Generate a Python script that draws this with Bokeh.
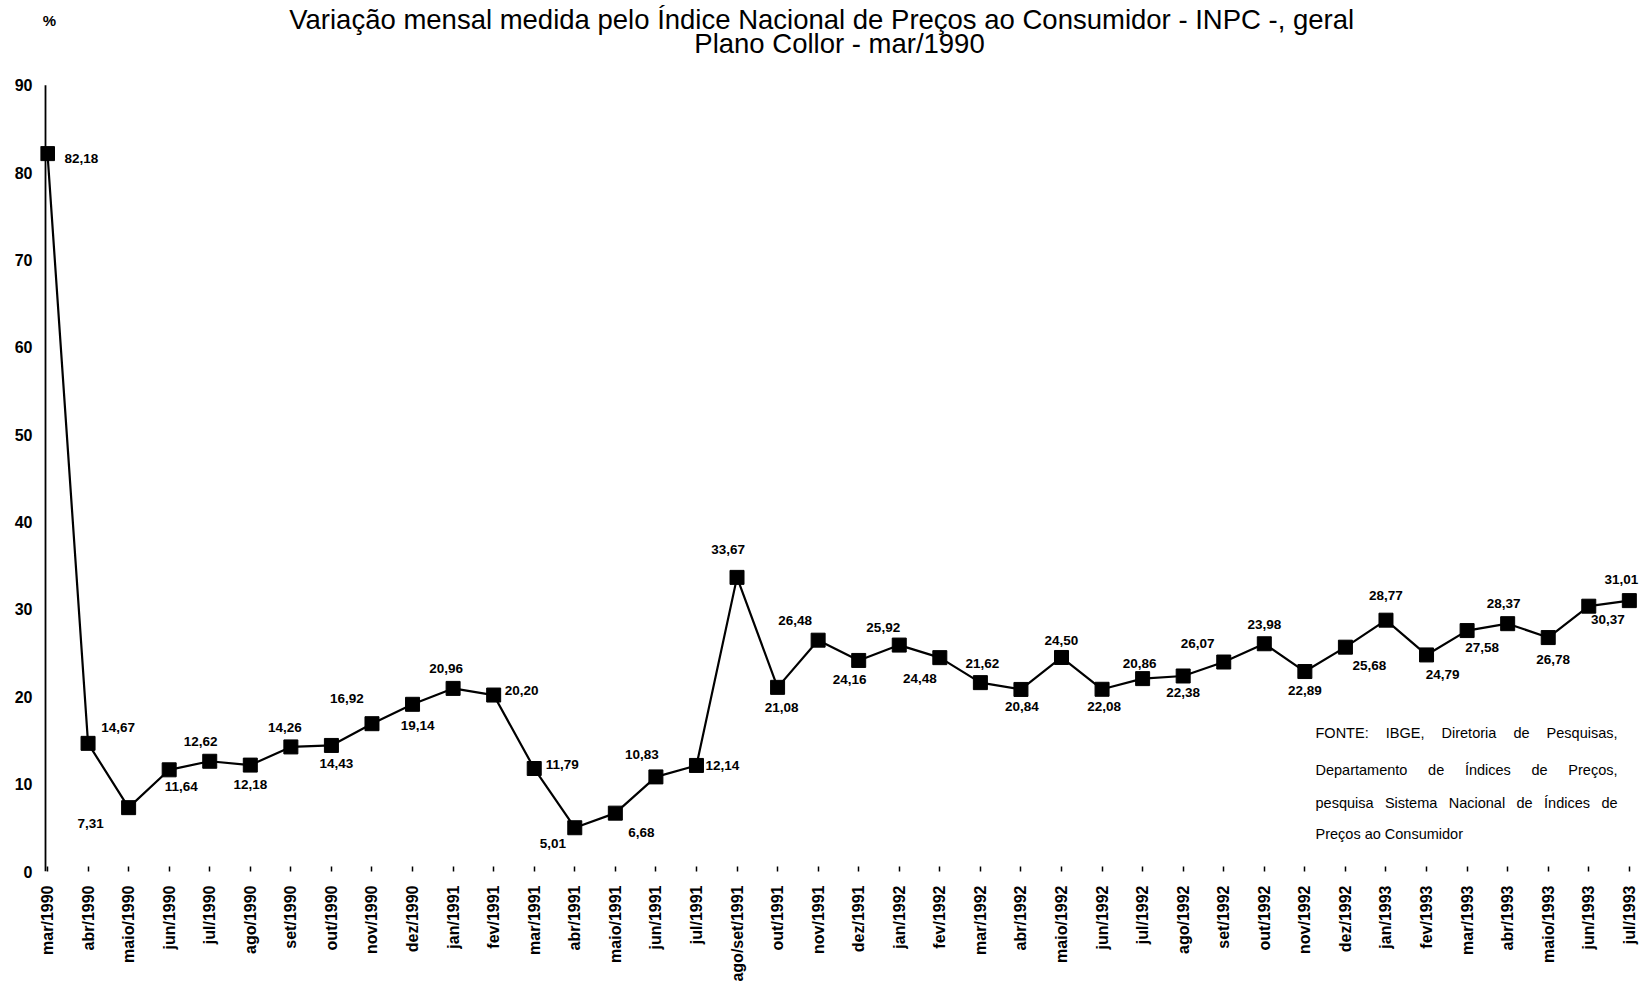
from bokeh.plotting import figure
from bokeh.models import ColumnDataSource, FixedTicker, LabelSet, Range1d
from bokeh.embed import file_html
from bokeh.resources import INLINE
from bokeh.core.properties import value

# ---------------- data ----------------
months = ["mar/1990", "abr/1990", "maio/1990", "jun/1990", "jul/1990", "ago/1990", "set/1990",
          "out/1990", "nov/1990", "dez/1990",
          "jan/1991", "fev/1991", "mar/1991", "abr/1991", "maio/1991", "jun/1991", "jul/1991",
          "ago/set/1991", "out/1991", "nov/1991", "dez/1991",
          "jan/1992", "fev/1992", "mar/1992", "abr/1992", "maio/1992", "jun/1992", "jul/1992",
          "ago/1992", "set/1992", "out/1992", "nov/1992", "dez/1992",
          "jan/1993", "fev/1993", "mar/1993", "abr/1993", "maio/1993", "jun/1993", "jul/1993"]
inpc = [82.18, 14.67, 7.31, 11.64, 12.62, 12.18, 14.26, 14.43, 16.92, 19.14,
        20.96, 20.20, 11.79, 5.01, 6.68, 10.83, 12.14, 33.67, 21.08, 26.48, 24.16,
        25.92, 24.48, 21.62, 20.84, 24.50, 20.86, 22.08, 22.38, 23.98, 26.07, 22.89, 25.68,
        28.77, 24.79, 27.58, 28.37, 26.78, 30.37, 31.01]
point_labels = ["82,18", "14,67", "7,31", "11,64", "12,62", "12,18", "14,26", "14,43", "16,92", "19,14",
                "20,96", "20,20", "11,79", "5,01", "6,68", "10,83", "12,14", "33,67", "21,08", "26,48", "24,16",
                "25,92", "24,48", "21,62", "20,84", "24,50", "22,08", "20,86", "22,38", "26,07", "23,98",
                "22,89", "25,68",
                "28,77", "24,79", "27,58", "28,37", "26,78", "30,37", "31,01"]
y_ticks = [0, 10, 20, 30, 40, 50, 60, 70, 80, 90]

title_1 = "Variação  mensal medida pelo Índice Nacional de Preços ao Consumidor - INPC -, geral"
title_2 = "Plano Collor - mar/1990"
unit_text = "%"
source_lines = [["FONTE:", "IBGE,", "Diretoria", "de", "Pesquisas,"],
                ["Departamento", "de", "Índices", "de", "Preços,"],
                ["pesquisa", "Sistema", "Nacional", "de", "Índices", "de"],
                ["Preços ao Consumidor"]]

# label placement (screen px, x right / y down) relative to each marker
label_dx = [34, 30, -38, 12, -9, 0, -6, 5, -25, 5,
            -7, 28, 28, -22, 26, -14, 26, -9, 4, -23, -9,
            -16, -20, 2, 1, 0, 2, -3, 0, -26, 0, 0, 24,
            0, 16, 15, -4, 5, 19, -8]
label_dy = [5, -16, 16, 17, -20, 19, -19, 18, -25, 21,
            -20, -5, -4, 16, 19, -22, 0, -28, 20, -20, 19,
            -18, 21, -19, 17, -17, 17, -15, 17, -19, -19, 19, 18,
            -25, 20, 17, -20, 22, 13, -21]

# ---------------- layout (page pixels) ----------------
W, H = 1648, 984
FRAME_L, FRAME_T, FRAME_B = 40, 0, 873
CAT0_PX, STEP_PX = 47, 40.56          # first category position and spacing
Y90_PX = 85
PX_PER_UNIT_Y = (FRAME_B - Y90_PX) / 90.0
X0 = (FRAME_L - CAT0_PX) / STEP_PX
X1 = X0 + (W - FRAME_L) / STEP_PX
Y1 = 90 + (Y90_PX - FRAME_T) / PX_PER_UNIT_Y


def px_x(px):
    return (px - CAT0_PX) / STEP_PX


def px_y(py):
    return (FRAME_B - py) / PX_PER_UNIT_Y


FONT = "Liberation Sans"

p = figure(width=W, height=H, output_backend="svg", toolbar_location=None,
           x_range=Range1d(X0, X1), y_range=Range1d(0, Y1),
           min_border_left=FRAME_L, min_border_top=FRAME_T,
           min_border_bottom=H - FRAME_B, min_border_right=0)
p.outline_line_color = None
p.xgrid.visible = False
p.ygrid.visible = False
p.background_fill_color = "white"
p.border_fill_color = "white"

xs = list(range(len(months)))
src = ColumnDataSource(dict(x=xs, y=inpc, label=point_labels,
                            dx=label_dx, dy=[-d for d in label_dy]))

# y axis line (0 .. 90)
p.segment(x0=[px_x(45)], y0=[min(y_ticks)], x1=[px_x(45)], y1=[max(y_ticks)],
          line_color="black", line_width=1.8)

p.line("x", "y", source=src, line_color="black", line_width=2.2)
p.scatter("x", "y", source=src, marker="square", size=14, fill_color="black", line_color="black")

labels = LabelSet(x="x", y="y", text="label", x_offset="dx", y_offset="dy", source=src,
                  text_align="center", text_baseline="middle",
                  text_font=value(FONT), text_font_style="bold", text_font_size="13.5px",
                  text_color="black")
p.add_layout(labels)

# axes
p.xaxis.ticker = FixedTicker(ticks=xs)
p.xaxis.major_label_overrides = {i: m for i, m in enumerate(months)}
p.xaxis.major_label_orientation = 3.14159265 / 2
p.xaxis.axis_line_color = None
p.xaxis.major_tick_in = 5
p.xaxis.major_tick_out = 0
p.xaxis.major_tick_line_color = "black"
p.xaxis.major_tick_line_width = 1.5
p.xaxis.minor_tick_line_color = None
p.xaxis.major_label_text_font = FONT
p.xaxis.major_label_text_font_style = "bold"
p.xaxis.major_label_text_font_size = "16px"
p.xaxis.major_label_text_color = "black"
p.xaxis.major_label_standoff = 14

p.yaxis.ticker = FixedTicker(ticks=y_ticks)
p.yaxis.axis_line_color = None
p.yaxis.major_tick_line_color = None
p.yaxis.minor_tick_line_color = None
p.yaxis.major_tick_in = 0
p.yaxis.major_tick_out = 0
p.yaxis.major_label_text_font = FONT
p.yaxis.major_label_text_font_style = "bold"
p.yaxis.major_label_text_font_size = "16px"
p.yaxis.major_label_text_color = "black"
p.yaxis.major_label_standoff = 8

# titles and unit
p.text(x=[px_x(825)], y=[px_y(19)], text=[title_1], text_align="center", text_baseline="middle",
       text_font=value(FONT), text_font_size="27.5px", text_color="black")
p.text(x=[px_x(839)], y=[px_y(43)], text=[title_2], text_align="center", text_baseline="middle",
       text_font=value(FONT), text_font_size="27.5px", text_color="black")
p.text(x=[px_x(49)], y=[px_y(20)], text=[unit_text], text_align="center", text_baseline="middle",
       text_font=value(FONT), text_font_style="bold", text_font_size="15px", text_color="black")

# source note, justified lines
AW = {' ': 278, ',': 278, '.': 278, ':': 278, 'A': 667, 'B': 667, 'C': 722, 'D': 722, 'E': 667,
      'F': 611, 'G': 778, 'I': 278, 'N': 722, 'O': 778, 'P': 667, 'S': 667, 'T': 611, 'a': 556,
      'c': 500, 'd': 556, 'e': 556, 'i': 222, 'l': 222, 'm': 833, 'n': 556, 'o': 556, 'p': 556,
      'q': 556, 'r': 333, 's': 500, 't': 278, 'u': 556, 'ç': 500, 'Í': 278}
NOTE_FS = 14.5


def tw(s):
    return sum(AW.get(c, 556) for c in s) / 1000.0 * NOTE_FS


NOTE_L, NOTE_R = 1315, 1617
note_y = [734, 771, 804, 835]
wx, wy, wt = [], [], []
for li, words in enumerate(source_lines):
    if len(words) == 1:
        positions = [NOTE_L]
    else:
        total = sum(tw(w) for w in words)
        gap = (NOTE_R - NOTE_L - total) / (len(words) - 1)
        positions = []
        cx = NOTE_L
        for w in words:
            positions.append(cx)
            cx += tw(w) + gap
    for w, px in zip(words, positions):
        wx.append(px_x(px))
        wy.append(px_y(note_y[li]))
        wt.append(w)
p.text(x=wx, y=wy, text=wt, text_align="left", text_baseline="middle",
       text_font=value(FONT), text_font_size=f"{NOTE_FS}px", text_color="black")

open("out.html", "w").write(file_html(p, INLINE))
